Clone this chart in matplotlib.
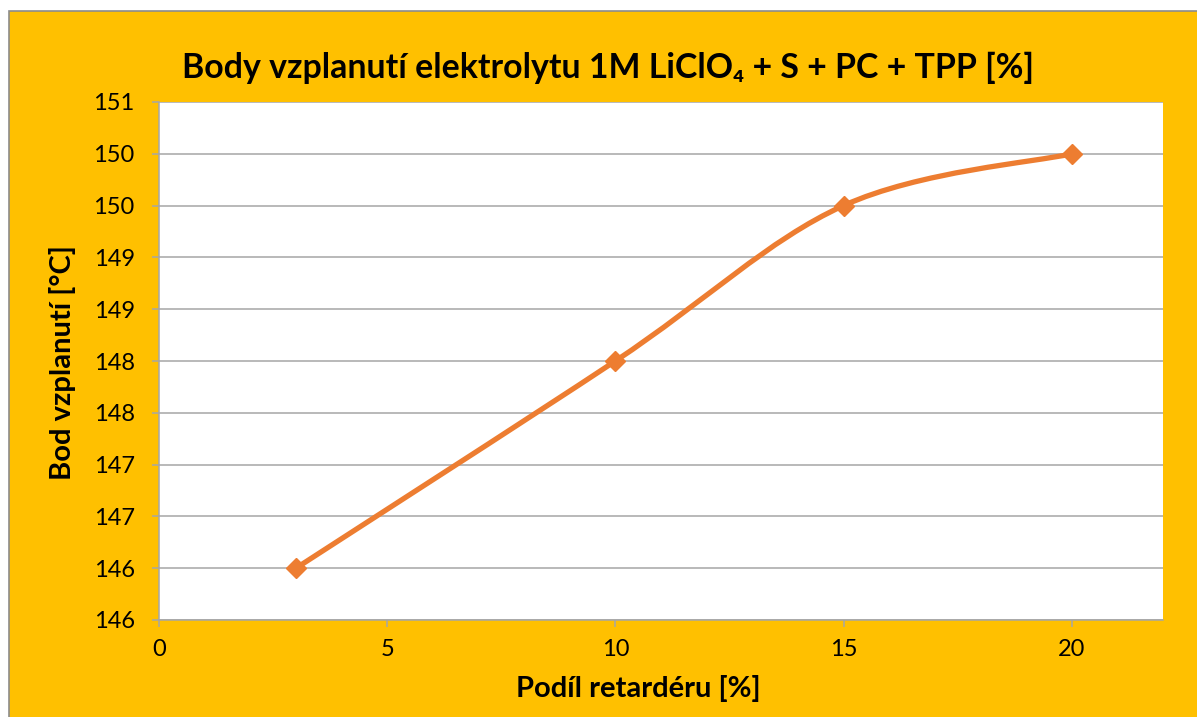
import math
import matplotlib
matplotlib.use("Agg")
import matplotlib.pyplot as plt
from matplotlib.path import Path
from matplotlib.patches import PathPatch, Rectangle
from matplotlib.ticker import FuncFormatter, MultipleLocator

# Data
x_vals = [3, 10, 15, 20]
y_vals = [146.0, 148.0, 149.5, 150.0]
title = "Body vzplanutí elektrolytu 1M LiClO₄ + S + PC + TPP [%]"
xlabel = "Podíl retardéru [%]"
ylabel = "Bod vzplanutí [°C]"

plt.rcParams['font.family'] = ['Lato', 'DejaVu Sans']

BG = "#FFC000"
LINE = "#ED7D31"
GRID = "#A6A6A6"

fig = plt.figure(figsize=(11.97, 7.17), dpi=100)
fig.patch.set_facecolor("white")
# orange chart area with gray border
fig.patches.append(Rectangle((9/1197, -0.01), 1.01 - 9/1197, 1.01 - 11/717, transform=fig.transFigure,
                             facecolor=BG, edgecolor="#8C8C8C", linewidth=1.2, zorder=-10))

ax = fig.add_axes([159/1197, 1 - 620/717, (1163 - 159)/1197, (620 - 102)/717])
ax.set_facecolor("white")
ax.set_xlim(0, 22)
ax.set_ylim(145.5, 150.5)
ax.xaxis.set_major_locator(MultipleLocator(5))
ax.yaxis.set_major_locator(MultipleLocator(0.5))
ax.yaxis.set_major_formatter(FuncFormatter(lambda v, p: str(int(math.floor(v + 0.5 + 1e-9)))))
ax.grid(axis='y', color=GRID, linewidth=1.1)
ax.set_axisbelow(True)
for s in ['top', 'right']:
    ax.spines[s].set_visible(False)
for s in ['left', 'bottom']:
    ax.spines[s].set_color(GRID)
    ax.spines[s].set_linewidth(1.1)
ax.tick_params(axis='both', colors=GRID, length=5, width=1.1, labelsize=17, labelcolor='black')
ax.tick_params(axis='x', pad=9)
ax.tick_params(axis='y', pad=12.5)

# Excel-style smoothed line (Bezier through points)
pts = list(zip(x_vals, y_vals))
verts = [pts[0]]
codes = [Path.MOVETO]
n = len(pts)
for i in range(n - 1):
    p0 = pts[i - 1] if i > 0 else pts[i]
    p1 = pts[i]
    p2 = pts[i + 1]
    p3 = pts[i + 2] if i + 2 < n else pts[i + 1]
    c1 = (p1[0] + (p2[0] - p0[0]) / 6, p1[1] + (p2[1] - p0[1]) / 6)
    c2 = (p2[0] - (p3[0] - p1[0]) / 6, p2[1] - (p3[1] - p1[1]) / 6)
    verts += [c1, c2, p2]
    codes += [Path.CURVE4] * 3
ax.add_patch(PathPatch(Path(verts, codes), facecolor='none', edgecolor=LINE, linewidth=3.8,
                       capstyle='round', joinstyle='round', zorder=3))
ax.plot(x_vals, y_vals, linestyle='none', marker='D', markersize=10, color=LINE, zorder=4)

fig.text(638/1197, 1 - 688/717, xlabel, ha='center', va='center', fontsize=21, fontweight='bold')
fig.text(62/1197, 1 - 363/717, ylabel, ha='center', va='center', rotation=90,
         fontsize=21, fontweight='bold')
fig.text(608/1197, 1 - 68/717, title, ha='center', va='center', fontsize=24.4, fontweight='bold')

fig.savefig("out.png", dpi=100, facecolor=fig.get_facecolor())
